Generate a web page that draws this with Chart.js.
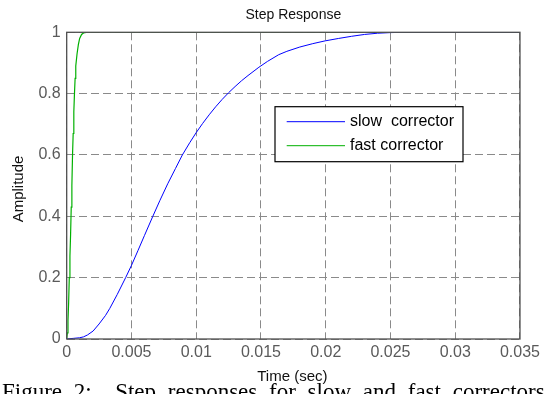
<!DOCTYPE html>
<html>
<head>
<meta charset="utf-8">
<style>
  html, body { margin: 0; padding: 0; background: #ffffff; }
  #wrap { width: 544px; height: 394px; position: relative; overflow: hidden; }
</style>
<script src="https://cdn.jsdelivr.net/npm/chart.js@4/dist/chart.umd.min.js"></script>
</head>
<body>
<div id="wrap"><canvas id="c" width="544" height="394"></canvas></div>
<script>
// ---- data ----
const chartTitle = "Step Response";
const xAxisLabel = "Time (sec)";
const yAxisLabel = "Amplitude";
const captionText = "Figure 2:  Step responses for slow and fast correctors";

const xTicks = [0, 0.005, 0.01, 0.015, 0.02, 0.025, 0.03, 0.035];
const yTicks = [0, 0.2, 0.4, 0.6, 0.8, 1];

const seriesNames = ["slow  corrector", "fast corrector"];
const seriesColors = ["#0000ff", "#00b000"];

// slow corrector (time in s, amplitude)
const slowT = [0, 0.0005, 0.001, 0.0013, 0.0016, 0.00204, 0.0025, 0.003, 0.00333, 0.0039, 0.00455,
  0.005, 0.0055, 0.006, 0.00665, 0.0072, 0.0078, 0.0084, 0.00893, 0.0095, 0.01, 0.0105, 0.011, 0.0115,
  0.012, 0.0125, 0.013, 0.0135, 0.014, 0.01484, 0.0155, 0.01637, 0.017, 0.018, 0.019, 0.01995, 0.021,
  0.022, 0.023, 0.024, 0.025, 0.026, 0.035];
const slowY = [0, 0.002, 0.004, 0.007, 0.013, 0.026, 0.049, 0.077, 0.1, 0.145, 0.2,
  0.24, 0.288, 0.337, 0.4, 0.452, 0.506, 0.556, 0.6, 0.64, 0.673, 0.703, 0.731, 0.757,
  0.781, 0.803, 0.823, 0.842, 0.859, 0.886, 0.905, 0.927, 0.938, 0.952, 0.963, 0.972, 0.98,
  0.987, 0.993, 0.997, 0.999, 1.0, 1.0];

// fast corrector
const fastT = [0, 0.00005, 0.0001, 0.00015, 0.0002, 0.00025, 0.0003, 0.00035, 0.0004, 0.00045, 0.0005,
  0.00055, 0.0006, 0.00065, 0.0007, 0.0008, 0.0009, 0.001, 0.00115, 0.0013, 0.0015, 0.035];
const fastY = [0, 0.02, 0.06, 0.12, 0.2, 0.27, 0.34, 0.43, 0.5, 0.6, 0.67,
  0.74, 0.8, 0.85, 0.89, 0.93, 0.96, 0.98, 0.993, 0.998, 1.0, 1.0];

const fmt = v => String(Number(v.toFixed(4)));

const textPlugin = {
  id: 'texts',
  afterDraw(chart) {
    const ctx = chart.ctx;
    const a = chart.chartArea;
    ctx.save();
    // plot box
    ctx.strokeStyle = '#505050';
    ctx.lineWidth = 1.3;
    ctx.setLineDash([]);
    ctx.strokeRect(a.left, a.top, a.right - a.left, a.bottom - a.top);
    const cx = (a.left + a.right) / 2;
    ctx.fillStyle = '#111';
    ctx.textAlign = 'center';
    ctx.textBaseline = 'middle';
    ctx.font = '14px "Liberation Sans", Arial, sans-serif';
    ctx.fillText(chartTitle, cx, 15);
    ctx.font = '15px "Liberation Sans", Arial, sans-serif';
    ctx.fillText(xAxisLabel, cx - 1, 377);
    ctx.save();
    ctx.translate(19, 189);
    ctx.rotate(-Math.PI / 2);
    ctx.fillText(yAxisLabel, 0, 0);
    ctx.restore();
    // caption (cut by page bottom)
    ctx.textAlign = 'left';
    ctx.textBaseline = 'alphabetic';
    ctx.font = '23px "Liberation Serif", "Times New Roman", serif';
    try { ctx.wordSpacing = '6px'; } catch (e) {}
    ctx.fillStyle = '#000';
    ctx.fillText(captionText, 2, 399);
    try { ctx.wordSpacing = '0px'; } catch (e) {}
    // legend
    const lx = a.left + 208.3, ly = a.top + 74.4, lw = 188, lh = 55;
    ctx.fillStyle = '#fff';
    ctx.fillRect(lx, ly, lw, lh);
    ctx.strokeStyle = '#000';
    ctx.lineWidth = 1.2;
    ctx.strokeRect(lx, ly, lw, lh);
    ctx.font = '16px "Liberation Sans", Arial, sans-serif';
    ctx.textBaseline = 'middle';
    chart.data.datasets.forEach((ds, i) => {
      const y = ly + 15 + i * 24;
      ctx.strokeStyle = ds.borderColor;
      ctx.lineWidth = 1;
      ctx.beginPath();
      ctx.moveTo(lx + 11.7, y);
      ctx.lineTo(lx + 70, y);
      ctx.stroke();
      ctx.fillStyle = '#000';
      ctx.fillText(ds.label, lx + 75, y);
    });
    ctx.restore();
  }
};

const tickFont = { family: '"Liberation Sans", Arial, sans-serif', size: 16 };

new Chart(document.getElementById('c'), {
  type: 'line',
  data: {
    datasets: [
      { label: seriesNames[0], data: slowT.map((t, i) => ({ x: t, y: slowY[i] })),
        borderColor: seriesColors[0], borderWidth: 1, pointRadius: 0, tension: 0, fill: false },
      { label: seriesNames[1], data: fastT.map((t, i) => ({ x: t, y: fastY[i] })),
        borderColor: seriesColors[1], borderWidth: 1.2, pointRadius: 0, tension: 0, fill: false }
    ]
  },
  options: {
    responsive: false,
    animation: false,
    devicePixelRatio: 1,
    layout: { padding: { top: 32.3, right: 21.3, left: 0, bottom: 0 } },
    plugins: { legend: { display: false }, title: { display: false }, tooltip: { enabled: false } },
    scales: {
      x: {
        type: 'linear', min: 0, max: 0.035,
        afterBuildTicks: s => { s.ticks = xTicks.map(v => ({ value: v })); },
        afterFit: s => { s.height = 55; },
        ticks: { font: tickFont, color: '#5a5a5a', padding: 4, maxRotation: 0, autoSkip: false,
          callback: v => fmt(v) },
        grid: { color: '#8a8a8a', lineWidth: 1, drawTicks: false },
        border: { display: false, dash: [8, 4] }
      },
      y: {
        type: 'linear', min: 0, max: 1,
        afterBuildTicks: s => { s.ticks = yTicks.map(v => ({ value: v })); },
        afterFit: s => { s.width = 66.7; },
        ticks: { font: tickFont, color: '#5a5a5a', padding: 6, autoSkip: false,
          callback: v => fmt(v) },
        grid: { color: '#8a8a8a', lineWidth: 1, drawTicks: false },
        border: { display: false, dash: [8, 4] }
      }
    }
  },
  plugins: [textPlugin]
});
</script>
</body>
</html>
